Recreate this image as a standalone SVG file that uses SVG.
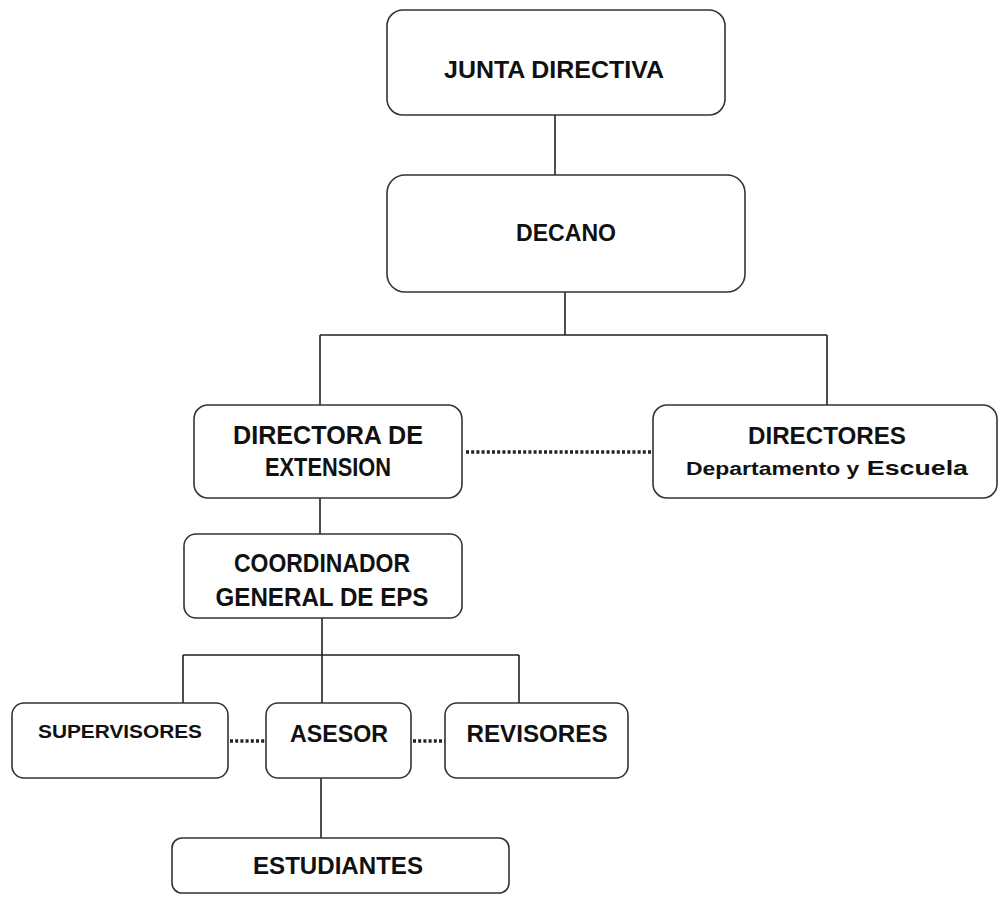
<svg xmlns="http://www.w3.org/2000/svg" width="998" height="900" viewBox="0 0 998 900">
<style>
.box{fill:#fff;stroke:#333;stroke-width:1.6}
.t{font-family:"Liberation Sans",Arial,sans-serif;font-weight:bold;fill:#111;text-anchor:middle}
.ln{fill:none;stroke:#222;stroke-width:1.6}
.dot{fill:none;stroke:#222;stroke-width:3.5;stroke-dasharray:3 2.2}
</style>
<rect width="998" height="900" fill="#fff"/>
<g id="connectors">
<path class="ln" d="M555 115V175"/>
<path class="ln" d="M565 292V335M320 335H827M320 335V405M827 335V405"/>
<path class="ln" d="M320 498V534"/>
<path class="ln" d="M322 618V655M183 655H519M183 655V703M322 655V703M519 655V703"/>
<path class="ln" d="M321 778V838"/>
<path class="dot" d="M466 452H653"/>
<path class="dot" d="M230 741H266"/>
<path class="dot" d="M413 741H445"/>
</g>
<g id="junta">
<rect class="box" x="387" y="10" width="338" height="105" rx="16"/>
<text class="t" x="554" y="78" font-size="24" textLength="220" lengthAdjust="spacingAndGlyphs">JUNTA DIRECTIVA</text>
</g>
<g id="decano">
<rect class="box" x="387" y="175" width="358" height="117" rx="18"/>
<text class="t" x="566" y="241" font-size="24" textLength="100" lengthAdjust="spacingAndGlyphs">DECANO</text>
</g>
<g id="directora">
<rect class="box" x="194" y="405" width="268" height="93" rx="14"/>
<text class="t" x="328" y="444" font-size="25" textLength="190" lengthAdjust="spacingAndGlyphs">DIRECTORA DE</text>
<text class="t" x="328" y="476" font-size="25" textLength="126" lengthAdjust="spacingAndGlyphs">EXTENSION</text>
</g>
<g id="directores">
<rect class="box" x="653" y="405" width="344" height="93" rx="14"/>
<text class="t" x="827" y="444" font-size="24" textLength="158" lengthAdjust="spacingAndGlyphs">DIRECTORES</text>
<text class="t" x="827" y="475" font-size="21" textLength="282" lengthAdjust="spacingAndGlyphs"><tspan font-size="18">Departamento y</tspan> Escuela</text>
</g>
<g id="coordinador">
<rect class="box" x="184" y="534" width="278" height="84" rx="12"/>
<text class="t" x="322" y="572" font-size="25" textLength="176" lengthAdjust="spacingAndGlyphs">COORDINADOR</text>
<text class="t" x="322" y="606" font-size="25" textLength="213" lengthAdjust="spacingAndGlyphs">GENERAL DE EPS</text>
</g>
<g id="supervisores">
<rect class="box" x="12" y="703" width="216" height="75" rx="12"/>
<text class="t" x="120" y="738" font-size="19" textLength="164" lengthAdjust="spacingAndGlyphs">SUPERVISORES</text>
</g>
<g id="asesor">
<rect class="box" x="266" y="703" width="145" height="75" rx="12"/>
<text class="t" x="339" y="742" font-size="24" textLength="98" lengthAdjust="spacingAndGlyphs">ASESOR</text>
</g>
<g id="revisores">
<rect class="box" x="445" y="703" width="183" height="75" rx="12"/>
<text class="t" x="537" y="742" font-size="24" textLength="141" lengthAdjust="spacingAndGlyphs">REVISORES</text>
</g>
<g id="estudiantes">
<rect class="box" x="172" y="838" width="337" height="55" rx="10"/>
<text class="t" x="338" y="874" font-size="24" textLength="170" lengthAdjust="spacingAndGlyphs">ESTUDIANTES</text>
</g>
</svg>
